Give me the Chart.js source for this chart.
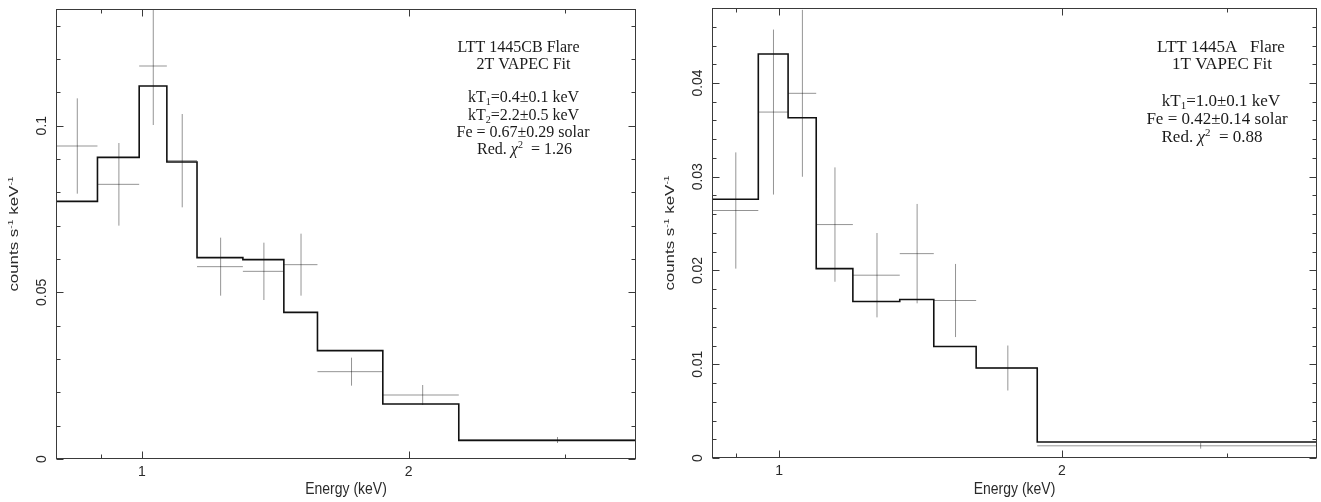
<!DOCTYPE html>
<html>
<head>
<meta charset="utf-8">
<script src="https://cdn.jsdelivr.net/npm/chart.js@4.4.1/dist/chart.umd.min.js"></script>
<style>
  html, body { margin: 0; padding: 0; background: #fff; }
  #wrap { position: relative; width: 1321px; height: 502px; overflow: hidden; }
  canvas { position: absolute; top: 0; }
  #cvLeft { left: 0; }
  #cvRight { left: 660px; }
</style>
</head>
<body>
<div id="wrap">
  <canvas id="cvLeft" width="660" height="502"></canvas>
  <canvas id="cvRight" width="661" height="502"></canvas>
</div>
<script>
// LTT 1445CB flare, 2T VAPEC fit (left panel)
const cbEdges = [0.80, 0.891, 0.993, 1.067, 1.154, 1.300, 1.446, 1.578, 1.870, 2.278, 3.61]; // keV bin edges
const cbModel = [0.0773, 0.0905, 0.1119, 0.0891, 0.0604, 0.0598, 0.0440, 0.0325, 0.0165, 0.0056];
const cbRate  = [0.0939, 0.0824, 0.1179, 0.0895, 0.0577, 0.0563, 0.0583, 0.0262, 0.0192, 0.0057];
const cbErr   = [0.0143, 0.0124, 0.0177, 0.0140, 0.0087, 0.0086, 0.0093, 0.0042, 0.0030, 0.0009];
const cbYTicks = [0, 0.05, 0.1];
const cbYLabels = ['0', '0.05', '0.1'];

// LTT 1445A flare, 1T VAPEC fit (right panel)
const aEdges = [0.848, 0.950, 1.022, 1.095, 1.198, 1.344, 1.461, 1.621, 1.883, 3.74];
const aModel = [0.0276, 0.0431, 0.0363, 0.0202, 0.0167, 0.0169, 0.0119, 0.0096, 0.0017];
const aRate  = [0.0264, 0.0369, 0.0389, 0.0249, 0.0195, 0.0218, 0.0168, 0.0096, 0.0013];
const aErr   = [0.0062, 0.0088, 0.0089, 0.0061, 0.0045, 0.0053, 0.0039, 0.0024, 0.0003];
const aYTicks = [0, 0.01, 0.02, 0.03, 0.04];
const aYLabels = ['0', '0.01', '0.02', '0.03', '0.04'];

const xMajorTicks = [1, 2];
const xMajorLabels = ['1', '2'];
const xMinorTicks = [0.9, 3];

const SANS = '"Liberation Sans", Arial, sans-serif';
const SERIF = '"Liberation Serif", "Times New Roman", serif';

// step model: one point per bin start plus the final edge
function stepPoints(edges, model) {
    const pts = model.map((v, i) => ({ x: edges[i], y: v }));
    pts.push({ x: edges[edges.length - 1], y: model[model.length - 1] });
    return pts;
}

// data crosses: horizontal bin width + vertical error, split by gaps
function crossPoints(edges, rate, err) {
    const pts = [];
    rate.forEach((r, i) => {
        const lo = edges[i], hi = edges[i + 1], mid = (lo + hi) / 2;
        pts.push({ x: lo, y: r }, { x: hi, y: r }, { x: mid, y: null },
                 { x: mid, y: r - err[i] }, { x: mid, y: r + err[i] }, { x: mid, y: null });
    });
    return pts;
}

function drawRich(ctx, segs, x, y, size, family, align) {
    const fontFor = k => (k === 'it' ? 'italic ' : '') +
        ((k === 'sub' || k === 'sup') ? Math.round(size * 0.62) : size) + 'px ' + family;
    let w = 0;
    segs.forEach(([t, k]) => { ctx.font = fontFor(k); w += ctx.measureText(t).width; });
    let cx = align === 'center' ? x - w / 2 : x;
    ctx.textAlign = 'left';
    ctx.textBaseline = 'alphabetic';
    segs.forEach(([t, k]) => {
        ctx.font = fontFor(k);
        const dy = k === 'sub' ? size * 0.18 : (k === 'sup' ? -size * 0.38 : 0);
        ctx.fillText(t, cx, y + dy);
        cx += ctx.measureText(t).width;
    });
}

const axisDecor = {
    id: 'axisDecor',
    afterDraw(chart, args, o) {
        const { ctx, chartArea: a, scales: { x, y } } = chart;
        const L = Math.round(a.left) + 0.5, R = Math.round(a.right) - 0.5;
        const T = Math.round(a.top) + 0.5, B = Math.round(a.bottom) - 0.5;
        ctx.save();
        ctx.strokeStyle = '#3a3a3a';
        ctx.lineWidth = 1;
        const seg = (x1, y1, x2, y2) => { ctx.beginPath(); ctx.moveTo(x1, y1); ctx.lineTo(x2, y2); ctx.stroke(); };
        ctx.strokeRect(L, T, R - L, B - T);

        // x ticks, bottom and top, pointing inward
        const xt = (v, len) => {
            const px = Math.round(x.getPixelForValue(v)) + 0.5;
            seg(px, B, px, B - len);
            seg(px, T, px, T + len);
        };
        xMajorTicks.forEach(v => xt(v, 7));
        xMinorTicks.forEach(v => xt(v, 4));

        // y ticks, left and right
        for (let i = 0; i * o.yStep <= y.max + 1e-9; i++) {
            const py = Math.round(y.getPixelForValue(i * o.yStep)) + 0.5;
            const len = i % o.yMajorEvery === 0 ? 7 : 4;
            seg(L, py, L + len, py);
            seg(R, py, R - len, py);
        }

        // tick labels
        ctx.fillStyle = '#2a2a2a';
        ctx.font = '14px ' + SANS;
        ctx.textAlign = 'center';
        ctx.textBaseline = 'alphabetic';
        xMajorTicks.forEach((v, i) => {
            ctx.fillText(xMajorLabels[i], x.getPixelForValue(v), a.bottom + 17);
        });
        o.yTicks.forEach((v, i) => {
            ctx.save();
            ctx.translate(a.left - 15, y.getPixelForValue(v));
            ctx.rotate(-Math.PI / 2);
            ctx.fillText(o.yLabels[i], 0, 5);
            ctx.restore();
        });

        // axis titles
        ctx.save();
        ctx.translate((a.left + a.right) / 2, 494);
        ctx.scale(1, 1.15);
        ctx.font = '14px ' + SANS;
        ctx.fillText('Energy (keV)', 0, 0);
        ctx.restore();
        ctx.save();
        ctx.translate(a.left - 43, (a.top + a.bottom) / 2);
        ctx.rotate(-Math.PI / 2);
        ctx.scale(1.3, 1);
        drawRich(ctx, [['counts s', ''], ['-1', 'sup'], [' keV', ''], ['-1', 'sup']], 0, 4.5, 13, SANS, 'center');
        ctx.restore();

        // fit annotation
        ctx.fillStyle = '#1a1a1a';
        o.notes.forEach(n => drawRich(ctx, n.segs, n.x, n.y, o.noteSize, SERIF, 'center'));
        ctx.restore();
    }
};

function makePanel(id, cfg) {
    return new Chart(document.getElementById(id), {
        type: 'line',
        data: {
            datasets: [{
                data: stepPoints(cfg.edges, cfg.model),
                stepped: 'before',
                borderColor: '#111',
                borderWidth: 1.6,
                pointRadius: 0,
                fill: false
            }, {
                data: crossPoints(cfg.edges, cfg.rate, cfg.err),
                borderColor: 'rgba(0,0,0,0.42)',
                borderWidth: 1,
                pointRadius: 0,
                spanGaps: false,
                fill: false
            }]
        },
        options: {
            responsive: false,
            animation: false,
            events: [],
            layout: { padding: { left: 0, top: cfg.top, right: cfg.right, bottom: 0 } },
            plugins: {
                legend: { display: false },
                tooltip: { enabled: false },
                axisDecor: {
                    yStep: cfg.yStep,
                    yMajorEvery: 5,
                    yTicks: cfg.yTicks,
                    yLabels: cfg.yLabels,
                    notes: cfg.notes,
                    noteSize: cfg.noteSize
                }
            },
            scales: {
                x: {
                    type: 'logarithmic',
                    min: cfg.edges[0],
                    max: cfg.edges[cfg.edges.length - 1],
                    ticks: { display: false },
                    grid: { display: false },
                    border: { display: false },
                    afterFit: s => { s.height = cfg.xHeight; }
                },
                y: {
                    type: 'linear',
                    min: 0,
                    max: cfg.yMax,
                    ticks: { display: false },
                    grid: { display: false },
                    border: { display: false },
                    afterFit: s => { s.width = cfg.yWidth; }
                }
            }
        },
        plugins: [axisDecor]
    });
}

makePanel('cvLeft', {
    edges: cbEdges, model: cbModel, rate: cbRate, err: cbErr,
    yMax: 0.135, yStep: 0.01, yTicks: cbYTicks, yLabels: cbYLabels,
    top: 9, right: 24, xHeight: 43, yWidth: 56, noteSize: 16,
    notes: [
        { x: 518.5, y: 52, segs: [['LTT 1445CB Flare', '']] },
        { x: 523.5, y: 69, segs: [['2T VAPEC Fit', '']] },
        { x: 523.5, y: 102, segs: [['kT', ''], ['1', 'sub'], ['=0.4\u00b10.1 keV', '']] },
        { x: 523.5, y: 120, segs: [['kT', ''], ['2', 'sub'], ['=2.2\u00b10.5 keV', '']] },
        { x: 523, y: 137, segs: [['Fe = 0.67\u00b10.29 solar', '']] },
        { x: 524.5, y: 154, segs: [['Red. ', ''], ['\u03c7', 'it'], ['2', 'sup'], ['  = 1.26', '']] }
    ]
});

makePanel('cvRight', {
    edges: aEdges, model: aModel, rate: aRate, err: aErr,
    yMax: 0.048, yStep: 0.002, yTicks: aYTicks, yLabels: aYLabels,
    top: 8, right: 4, xHeight: 44, yWidth: 52, noteSize: 17,
    notes: [
        { x: 561, y: 52, segs: [['LTT 1445A   Flare', '']] },
        { x: 562, y: 69, segs: [['1T VAPEC Fit', '']] },
        { x: 561, y: 106, segs: [['kT', ''], ['1', 'sub'], ['=1.0\u00b10.1 keV', '']] },
        { x: 557, y: 124, segs: [['Fe = 0.42\u00b10.14 solar', '']] },
        { x: 552, y: 142, segs: [['Red. ', ''], ['\u03c7', 'it'], ['2', 'sup'], ['  = 0.88', '']] }
    ]
});
</script>
</body>
</html>
